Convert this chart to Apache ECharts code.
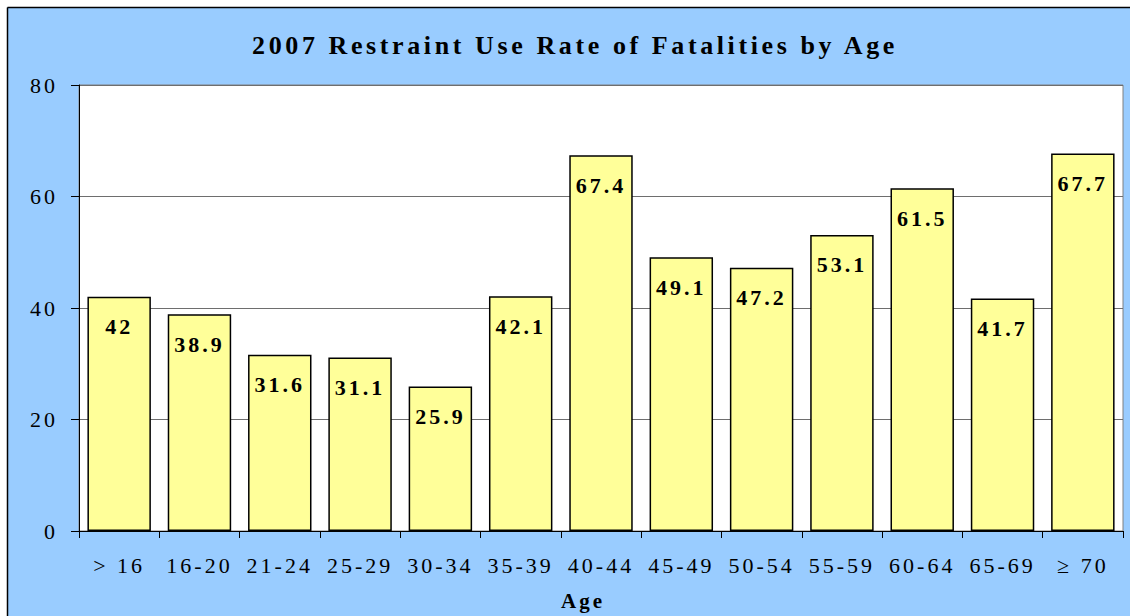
<!DOCTYPE html>
<html>
<head>
<meta charset="utf-8">
<style>
  html, body { margin: 0; padding: 0; background: #fff; }
  #chart { width: 1130px; height: 616px; }
  /* the reference text is loosely tracked, so space the letters out */
  #chart svg text { letter-spacing: 3px; }
  #chart svg text[style*="26px"] { letter-spacing: 3.6px; }
</style>
<script src="https://cdn.jsdelivr.net/npm/echarts@6/dist/echarts.min.js"></script>
</head>
<body>
<div id="chart"></div>
<script>
const ageGroups = ["> 16", "16-20", "21-24", "25-29", "30-34", "35-39", "40-44", "45-49", "50-54", "55-59", "60-64", "65-69", "\u2265 70"];
const useRates = [42, 38.9, 31.6, 31.1, 25.9, 42.1, 67.4, 49.1, 47.2, 53.1, 61.5, 41.7, 67.7];
const yTicks = [0, 20, 40, 60, 80];

const serif = "'Liberation Serif', serif";

const chart = echarts.init(document.getElementById("chart"), null, { renderer: "svg" });

chart.setOption({
  backgroundColor: "#99CCFF",
  animation: false,
  title: {
    text: "2007 Restraint Use Rate of Fatalities by Age",
    left: 570,
    top: 27,
    textAlign: "center",
    textStyle: {
      fontFamily: serif,
      fontSize: 26,
      fontWeight: "bold",
      color: "#000",
    },
  },
  graphic: [
    { type: "rect", shape: { x: 0, y: 0, width: 1130, height: 7 }, style: { fill: "#fff" }, silent: true },
    { type: "rect", shape: { x: 0, y: 0, width: 7, height: 616 }, style: { fill: "#fff" }, silent: true },
    { type: "line", shape: { x1: 7.5, y1: 7.5, x2: 1130, y2: 7.5 }, style: { stroke: "#000", lineWidth: 1.5 }, silent: true },
    { type: "line", shape: { x1: 7.5, y1: 7.5, x2: 7.5, y2: 616 }, style: { stroke: "#000", lineWidth: 1.5 }, silent: true },
  ],
  grid: {
    left: 79,
    top: 85,
    right: 7,
    bottom: 85,
    outerBoundsMode: "none",
    show: true,
    backgroundColor: "#fff",
    borderColor: "#808080",
    borderWidth: 1,
  },
  xAxis: {
    type: "category",
    data: ageGroups,
    name: "Age",
    nameLocation: "middle",
    nameGap: 59,
    nameTextStyle: {
      fontFamily: serif,
      fontSize: 21,
      fontWeight: "bold",
      color: "#000",
      padding: [0, 36, 0, 0],
    },
    axisLine: { lineStyle: { color: "#000", width: 1 } },
    axisTick: { show: true, alignWithLabel: false, length: 7, lineStyle: { color: "#000" } },
    axisLabel: {
      interval: 0,
      margin: 23,
      fontFamily: serif,
      fontSize: 22,
      color: "#000",
    },
  },
  yAxis: {
    type: "value",
    min: 0,
    max: 80,
    interval: 20,
    axisLine: { show: true, lineStyle: { color: "#000", width: 1 } },
    axisTick: { show: true, length: 8, lineStyle: { color: "#000" } },
    axisLabel: {
      margin: 21,
      fontFamily: serif,
      fontSize: 22,
      color: "#000",
      formatter: (v) => (yTicks.includes(v) ? String(v) : ""),
    },
    splitLine: { lineStyle: { color: "#6e6e6e", width: 1 } },
  },
  series: [
    {
      type: "bar",
      data: useRates,
      barCategoryGap: "21%",
      itemStyle: {
        color: "#FFFF99",
        borderColor: "#000",
        borderWidth: 1.5,
      },
      label: {
        show: true,
        position: "insideTop",
        distance: 19,
        fontFamily: serif,
        fontSize: 22,
        fontWeight: "bold",
        color: "#000",
      },
    },
  ],
});
</script>
</body>
</html>
